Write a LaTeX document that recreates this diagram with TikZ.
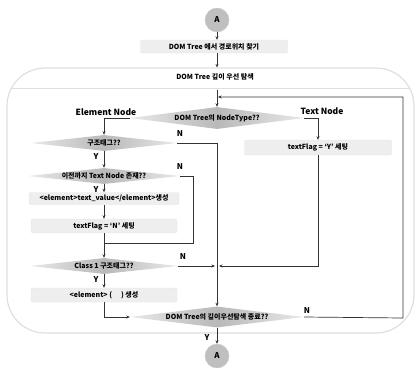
\documentclass[tikz,border=0pt]{standalone}
\usepackage{fontspec}
\setmainfont{Noto Sans CJK KR}
\usetikzlibrary{shapes.geometric,arrows.meta,calc}
\begin{document}
\begin{tikzpicture}[x=1pt,y=-1pt,
  font=\fontsize{7}{7.5}\selectfont\bfseries,
  conn/.style={draw=black!80, line width=0.7pt},
  arr/.style={conn, -{Stealth[length=3.5pt,width=3pt]}},
  dia/.style={diamond, inner sep=0pt, left color=gray!18, right color=gray!18, middle color=gray!55, draw=none},
  dtxt/.style={font=\fontsize{7}{7.5}\selectfont\bfseries, inner sep=0pt},
  box/.style={rectangle, rounded corners=1.5pt, fill=gray!13, draw=gray!20, line width=0.4pt, inner sep=0pt},
  conA/.style={circle, fill=gray!50, draw=gray!40, minimum size=24pt, inner sep=0pt, font=\fontsize{8}{9}\selectfont\bfseries},
  lbl/.style={font=\fontsize{8}{9}\selectfont\bfseries, inner sep=0pt},
  head/.style={font=\fontsize{8.5}{9.5}\selectfont\bfseries, inner sep=0pt}
]
\useasboundingbox (0,0) rectangle (417,367);

% container
\node[draw=gray!25, line width=1.2pt, rounded corners=38pt, minimum width=407pt, minimum height=265pt, inner sep=0pt] (cont) at (210.5,200.5) {};
\draw[gray!25, line width=0.8pt] (11.8,88) -- (409.2,88);
\node[dtxt] (hdr) at (215,77) {DOM Tree 깊이 우선 탐색};

% top
\node[conA] (a1) at (217,20) {A};
\node[box, minimum width=147pt, minimum height=13pt] (find) at (214,46.5) {DOM Tree 에서 경로위치 찾기};
\draw[arr] (a1.south) -- (a1.south |- find.north);
\draw[arr] (a1.south |- find.south) -- (a1.south |- cont.north);

% decision 1
\coordinate (top) at (217,90);
\coordinate (hub) at (217,97);
\node[dia, minimum width=174pt, minimum height=22pt, label={[dtxt]center:DOM Tree의 NodeType??}] (d1) at (217,118) {};
\draw[arr] (top) -- (d1.north);
\node[head] (en) at (106,112) {Element Node};
\node[head] (tn) at (322,111) {Text Node};

% left column
\node[dia, minimum width=146pt, minimum height=16pt, label={[dtxt]center:구조태그??}] (d2) at (104,143) {};
\node[dia, minimum width=152pt, minimum height=16pt, label={[dtxt]center:이전까지 Text Node 존재??}] (d3) at (104,176) {};
\node[box, minimum width=150pt, minimum height=12pt] (b1) at (104,198.5) {<element>text\_value</element>생성};
\node[box, minimum width=146pt, minimum height=14pt] (b2) at (104,226) {textFlag = ‘N’ 세팅};
\node[dia, minimum width=148pt, minimum height=16pt, label={[dtxt]center:Class 1 구조태그??}] (d4) at (104,266) {};
\node[box, minimum width=146pt, minimum height=14pt] (b3) at (104,295) {<element> (\hspace{9pt}) 생성};

% right
\node[box, minimum width=147pt, minimum height=15pt] (b4) at (318,147.5) {textFlag = ‘Y’ 세팅};

% bottom
\node[dia, minimum width=174pt, minimum height=21pt, label={[dtxt]center:DOM Tree의 깊이우선탐색 종료??}] (d5) at (217,317) {};
\node[conA] (a2) at (217,356) {A};

% connectors
\coordinate (m1) at (217,143);
\coordinate (j4) at (104,243);
\coordinate (cR) at (403,318);
\coordinate (cT) at (403,97);

\draw[arr] (d1.west) -| (d2.north);
\draw[arr] (d1.east) -| (b4.north);
\draw[arr] (d2.south) -- (d3.north);
\draw[arr] (d3.south) -- (b1.north);
\draw[arr] (b1.south) -- (b2.north);
\draw[conn] (d3.east) -- ++(13,0) |- (j4);
\draw[conn] (b2.south) -- (j4);
\draw[arr] (j4) -- (d4.north);
\draw[arr] (d4.south) -- (b3.north);
\draw[arr] (b3.south) |- (d5.west);
\draw[arr] (d2.east) -- (m1) -- (m1 |- d5.north);
\draw[arr, shorten >=2pt] (d4.east) -- (m1 |- d4.east);
\draw[arr, shorten >=2pt] (b4.south) |- (m1 |- d4.east);
\draw[arr, shorten >=1pt] (d5.east) -- (cR) -- (cT) -- (hub);
\draw[arr] (d5.south) -- (a2.north);

% Y / N labels
\node[lbl] (n2) at (180,134) {N};
\node[lbl] (n3) at (180,167) {N};
\node[lbl] (n4) at (183,257) {N};
\node[lbl] (n5) at (307,311) {N};
\node[lbl] (y2) at (96,157) {Y};
\node[lbl] (y3) at (96,190) {Y};
\node[lbl] (y4) at (96,280) {Y};
\node[lbl] (y5) at (207,338) {Y};
\end{tikzpicture}
\end{document}
